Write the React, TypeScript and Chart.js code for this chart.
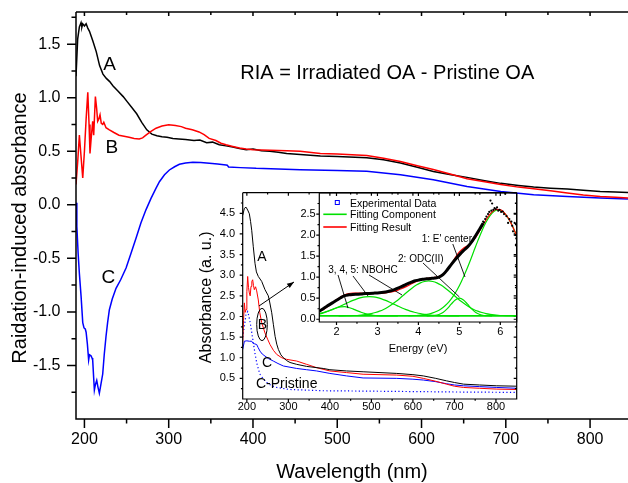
import { useEffect, useRef } from 'react';
import { Chart, registerables } from 'chart.js';

Chart.register(...registerables);

const FONT = '"Liberation Sans", Arial, Helvetica, sans-serif';
type Pt = [number, number];

// ---------- main chart (radiation-induced absorbance) ----------
const mainXTicks = [200, 300, 400, 500, 600, 700, 800];
const mainXMinor = [250, 350, 450, 550, 650, 750];
const mainYTicks = [-1.5, -1.0, -0.5, 0.0, 0.5, 1.0, 1.5];
const mainYMinor = [-1.75, -1.25, -0.75, -0.25, 0.25, 0.75, 1.25, 1.75];

const riaA: Pt[] = [[190,1.20],[192,1.55],[194,1.66],[196,1.70],[197,1.66],[198,1.69],[200,1.67],[202,1.69],[204,1.65],[206,1.62],[210,1.53],[214,1.43],[218,1.30],[222,1.22],[226,1.18],[230,1.15],[234,1.11],[240,1.06],[246,1.01],[250,0.97],[256,0.91],[262,0.85],[268,0.77],[274,0.70],[280,0.66],[286,0.645],[292,0.635],[298,0.63],[305,0.62],[312,0.615],[320,0.61],[330,0.60],[337,0.605],[345,0.58],[352,0.585],[360,0.56],[368,0.55],[376,0.54],[384,0.525],[392,0.515],[400,0.52],[410,0.505],[420,0.50],[430,0.49],[440,0.48],[456,0.47],[480,0.455],[500,0.45],[535,0.44],[555,0.42],[575,0.39],[595,0.35],[614,0.31],[635,0.28],[654,0.256],[675,0.225],[694,0.20],[715,0.18],[733,0.166],[753,0.155],[773,0.147],[792,0.135],[812,0.125],[830,0.12],[845,0.115]];

const riaB: Pt[] = [[190,0.19],[192,0.40],[194,0.65],[196,0.45],[198,0.25],[200,0.50],[202,0.80],[204,1.05],[205.5,0.75],[206.6,0.48],[208,0.62],[209.8,0.78],[211,0.65],[213,1.01],[214.5,0.90],[215.7,0.78],[217,0.80],[218.5,0.84],[220,0.76],[221.7,0.75],[223,0.77],[225.6,0.72],[229.6,0.70],[235,0.675],[241,0.65],[247,0.64],[253,0.63],[259,0.62],[265,0.615],[269,0.625],[273,0.65],[279,0.685],[285,0.715],[292,0.735],[300,0.747],[308,0.74],[315,0.73],[320,0.715],[328,0.70],[336,0.68],[342,0.655],[348,0.62],[356,0.60],[362,0.575],[368,0.56],[376,0.545],[384,0.53],[392,0.52],[400,0.515],[420,0.51],[440,0.505],[456,0.50],[480,0.48],[500,0.475],[535,0.46],[555,0.435],[575,0.405],[595,0.365],[614,0.33],[635,0.285],[654,0.244],[675,0.215],[694,0.19],[715,0.165],[733,0.15],[753,0.13],[773,0.11],[792,0.092],[812,0.078],[830,0.07],[845,0.063]];

const riaC: Pt[] = [[190,0.02],[191,-0.2],[192.5,-0.45],[194,-0.64],[196,-0.85],[198,-1.10],[199.5,-1.15],[201,-1.16],[202,-1.19],[203.5,-1.30],[205,-1.45],[206,-1.40],[207.8,-1.41],[209,-1.43],[209.8,-1.45],[211,-1.62],[211.8,-1.73],[213,-1.68],[214.6,-1.64],[216,-1.70],[217.7,-1.76],[219.5,-1.68],[221.7,-1.58],[223.5,-1.40],[225.6,-1.23],[227.5,-1.10],[229.6,-0.98],[233,-0.88],[237.5,-0.78],[243,-0.70],[249.4,-0.59],[255,-0.46],[261.3,-0.31],[267,-0.17],[273,-0.047],[279,0.06],[285,0.156],[289,0.215],[295,0.28],[300.8,0.325],[307,0.355],[312.7,0.378],[320,0.39],[328.6,0.397],[338,0.395],[348.3,0.387],[358,0.38],[368,0.372],[369.5,0.37],[371,0.353],[385,0.347],[403.8,0.34],[430,0.335],[456,0.328],[500,0.32],[535,0.312],[575,0.28],[614,0.234],[654,0.17],[694,0.125],[733,0.094],[773,0.078],[812,0.063],[845,0.053]];

// ---------- inset 1 (absorbance) ----------
const absXTicks = [200, 300, 400, 500, 600, 700, 800];
const absXMinor = [250, 350, 450, 550, 650, 750];
const absYTicks = [0.5, 1.0, 1.5, 2.0, 2.5, 3.0, 3.5, 4.0, 4.5];
const absYMinor = [0.25, 0.75, 1.25, 1.75, 2.25, 2.75, 3.25, 3.75, 4.25, 4.75];

const absA: Pt[] = [[190,4.45],[194,4.62],[198,4.65],[202,4.58],[206,4.49],[209,4.30],[211.7,4.09],[215.5,3.69],[219.6,3.29],[223,3.08],[227.6,2.97],[235.8,2.85],[243.7,2.65],[251.7,2.50],[255,2.35],[259.9,2.09],[264,1.80],[268,1.52],[272,1.33],[276,1.20],[282,1.07],[288,1.0],[296,0.93],[304,0.885],[320,0.84],[344,0.79],[384,0.74],[400,0.71],[440,0.68],[480,0.66],[561,0.62],[600,0.59],[625,0.56],[655,0.50],[681,0.44],[700,0.40],[722,0.36],[760,0.34],[802,0.32],[850,0.31]];

const absB: Pt[] = [[190,1.37],[192,1.9],[194,2.33],[196,2.1],[198,2.17],[200,2.6],[202,2.97],[204,2.7],[206,2.57],[208,2.5],[210,2.73],[212,2.85],[214,2.89],[216,2.75],[218,2.65],[221,2.72],[223.7,2.62],[227.6,2.40],[231,2.1],[235.8,1.85],[243.7,1.60],[250,1.45],[255.8,1.32],[264,1.18],[272,1.08],[284,1.0],[296,0.96],[320,0.92],[344,0.84],[368,0.76],[400,0.68],[440,0.64],[480,0.60],[561,0.58],[600,0.55],[625,0.50],[655,0.43],[681,0.36],[700,0.31],[722,0.28],[760,0.26],[802,0.24],[850,0.23]];

const absC: Pt[] = [[190,1.20],[194,1.40],[200,1.41],[206,1.40],[211.7,1.40],[214,1.36],[218,1.34],[223.7,1.32],[227,1.25],[231.7,1.16],[237,1.09],[243.7,1.04],[252,0.98],[263.7,0.92],[275,0.86],[288,0.80],[304,0.77],[320,0.74],[344,0.71],[368,0.68],[400,0.62],[440,0.56],[480,0.51],[561,0.50],[600,0.48],[625,0.46],[655,0.42],[681,0.37],[700,0.34],[722,0.32],[760,0.30],[802,0.28],[850,0.26]];

const absCPristine: Pt[] = [[190,1.5],[194,1.76],[198,2.05],[202,2.12],[205,2.0],[208,1.85],[212,1.6],[215.5,1.37],[220,1.08],[223.7,0.88],[228,0.72],[231.7,0.60],[240,0.48],[247.8,0.40],[260,0.32],[272,0.28],[290,0.25],[304,0.23],[384,0.20],[500,0.19],[600,0.18],[700,0.17],[850,0.16]];

// ---------- inset 2 (energy, fitted bands) ----------
const eXTicks = [2, 3, 4, 5, 6];
const eXMinor = [2.5, 3.5, 4.5, 5.5];
const eYTicks = [0.0, 0.5, 1.0, 1.5, 2.0, 2.5];
const eYMinor = [0.25, 0.75, 1.25, 1.75, 2.25, 2.75];

const expLine: Pt[] = [[1.58,0.19],[1.7,0.27],[1.8,0.33],[1.9,0.39],[2.0,0.45],[2.1,0.51],[2.2,0.56],[2.3,0.58],[2.4,0.59],[2.5,0.595],[2.6,0.60],[2.7,0.61],[2.8,0.615],[2.9,0.62],[3.0,0.625],[3.1,0.635],[3.2,0.65],[3.3,0.67],[3.4,0.70],[3.5,0.74],[3.6,0.78],[3.7,0.83],[3.8,0.87],[3.9,0.91],[4.0,0.93],[4.1,0.95],[4.2,0.96],[4.3,0.97],[4.4,0.98],[4.5,1.00],[4.6,1.06],[4.7,1.17],[4.8,1.30],[4.9,1.42],[5.0,1.53],[5.1,1.63],[5.2,1.72],[5.3,1.84],[5.4,1.99],[5.5,2.15],[5.58,2.28]];

const expScatter: Pt[] = [[5.58,2.32],[5.60,2.30],[5.63,2.38],[5.66,2.44],[5.70,2.50],[5.73,2.55],[5.76,2.82],[5.78,2.58],[5.80,2.75],[5.83,2.60],[5.86,2.64],[5.89,2.62],[5.92,2.66],[5.95,2.58],[5.98,2.60],[6.02,2.55],[6.06,2.56],[6.09,2.50],[6.12,2.98],[6.15,2.45],[6.19,2.29],[6.22,2.38],[6.27,2.32],[6.29,2.22],[6.31,2.09],[6.35,2.29],[6.37,2.00],[6.39,1.92]];

const fitResult: Pt[] = [[1.6,0.190],[1.7,0.244],[1.8,0.312],[1.9,0.388],[2.0,0.463],[2.1,0.529],[2.2,0.579],[2.3,0.609],[2.4,0.621],[2.5,0.623],[2.6,0.620],[2.7,0.616],[2.8,0.615],[2.9,0.615],[3.0,0.617],[3.1,0.618],[3.2,0.627],[3.3,0.642],[3.4,0.664],[3.5,0.693],[3.6,0.730],[3.7,0.775],[3.8,0.826],[3.9,0.874],[4.0,0.916],[4.1,0.950],[4.2,0.973],[4.3,0.984],[4.4,0.996],[4.5,1.017],[4.6,1.067],[4.7,1.160],[4.8,1.304],[4.9,1.464],[5.0,1.601],[5.1,1.689],[5.2,1.749],[5.3,1.826],[5.4,1.948],[5.5,2.110],[5.6,2.280],[5.7,2.436],[5.8,2.551],[5.9,2.610],[6.0,2.603],[6.1,2.529],[6.2,2.395],[6.3,2.206],[6.4,1.983]];

const fitBaseline: Pt[] = [[1.5,0.08],[6.5,0.08]];

const compNBOHC1: Pt[] = [[1.5,0.106],[1.6,0.128],[1.7,0.158],[1.8,0.197],[1.9,0.238],[2.0,0.274],[2.1,0.296],[2.2,0.298],[2.3,0.280],[2.4,0.246],[2.5,0.205],[2.6,0.166],[2.7,0.133],[2.8,0.110],[2.9,0.095],[3.0,0.087],[3.2,0.081],[3.5,0.08]];

const compNBOHC2: Pt[] = [[1.5,0.124],[1.6,0.142],[1.7,0.166],[1.8,0.195],[1.9,0.230],[2.0,0.269],[2.1,0.313],[2.2,0.359],[2.3,0.405],[2.4,0.448],[2.5,0.486],[2.6,0.515],[2.7,0.534],[2.8,0.540],[2.9,0.534],[3.0,0.515],[3.1,0.486],[3.2,0.448],[3.3,0.405],[3.4,0.359],[3.5,0.313],[3.6,0.269],[3.7,0.230],[3.8,0.195],[3.9,0.166],[4.0,0.142],[4.1,0.124],[4.2,0.110],[4.3,0.100],[4.4,0.093],[4.5,0.088],[4.6,0.085],[4.8,0.082],[5.0,0.08]];

const compNBOHC3: Pt[] = [[2.05,0.082],[2.25,0.083],[2.35,0.085],[2.45,0.089],[2.55,0.095],[2.65,0.104],[2.75,0.117],[2.85,0.135],[2.95,0.160],[3.05,0.192],[3.15,0.234],[3.25,0.287],[3.35,0.350],[3.45,0.421],[3.55,0.500],[3.65,0.584],[3.75,0.667],[3.85,0.745],[3.95,0.812],[4.05,0.865],[4.15,0.898],[4.25,0.910],[4.35,0.898],[4.45,0.865],[4.55,0.812],[4.65,0.745],[4.75,0.667],[4.85,0.584],[4.95,0.500],[5.05,0.421],[5.15,0.350],[5.25,0.287],[5.35,0.234],[5.45,0.192],[5.55,0.160],[5.65,0.135],[5.75,0.117],[5.85,0.104],[5.95,0.095],[6.05,0.089],[6.15,0.085],[6.25,0.083],[6.45,0.081]];

const compODC: Pt[] = [[4.2,0.08],[4.3,0.083],[4.4,0.090],[4.5,0.112],[4.6,0.160],[4.7,0.246],[4.8,0.358],[4.9,0.459],[5.0,0.50],[5.1,0.459],[5.2,0.358],[5.3,0.246],[5.4,0.160],[5.5,0.112],[5.6,0.090],[5.7,0.083],[5.8,0.08]];

const compEprime: Pt[] = [[3.75,0.085],[3.95,0.090],[4.05,0.097],[4.15,0.108],[4.25,0.125],[4.35,0.153],[4.45,0.191],[4.55,0.246],[4.65,0.322],[4.75,0.420],[4.85,0.549],[4.95,0.707],[5.05,0.899],[5.15,1.116],[5.25,1.355],[5.35,1.610],[5.45,1.862],[5.55,2.099],[5.65,2.303],[5.75,2.464],[5.85,2.565],[5.95,2.600],[6.05,2.565],[6.15,2.464],[6.25,2.303],[6.35,2.099],[6.45,1.862]];

// ---------- helpers ----------
type Deco = {
  xMajor: number[]; xMinor: number[]; yMajor: number[]; yMinor: number[];
  outMajor: number; outMinor: number; inMajor: number; inMinor: number;
  topLine: boolean; rightLine: boolean; topTicks: boolean; rightTicks: boolean; lw: number;
  extra?: (chart: any) => void;
};

function decoPlugin(id: string, d: Deco) {
  return {
    id,
    afterDraw(chart: any) {
      const ctx: CanvasRenderingContext2D = chart.ctx;
      const { left, right, top, bottom } = chart.chartArea;
      const xs = chart.scales.x;
      const ys = chart.scales.y;
      ctx.save();
      ctx.strokeStyle = '#000';
      ctx.lineWidth = d.lw;
      ctx.beginPath();
      ctx.moveTo(left, top);
      ctx.lineTo(left, bottom);
      ctx.lineTo(right, bottom);
      if (d.rightLine) ctx.lineTo(right, top);
      if (d.topLine) { ctx.moveTo(left, top); ctx.lineTo(right, top); }
      const tk = (a: number, b: number, c: number, e: number) => { ctx.moveTo(a, b); ctx.lineTo(c, e); };
      d.xMajor.forEach(v => { const p = xs.getPixelForValue(v); tk(p, bottom, p, bottom + d.outMajor); if (d.topTicks) tk(p, top, p, top + d.inMajor); });
      d.xMinor.forEach(v => { const p = xs.getPixelForValue(v); tk(p, bottom, p, bottom + d.outMinor); if (d.topTicks) tk(p, top, p, top + d.inMinor); });
      d.yMajor.forEach(v => { const p = ys.getPixelForValue(v); tk(left - d.outMajor, p, left, p); if (d.rightTicks) tk(right, p, right - d.inMajor, p); });
      d.yMinor.forEach(v => { const p = ys.getPixelForValue(v); tk(left - d.outMinor, p, left, p); if (d.rightTicks) tk(right, p, right - d.inMinor, p); });
      ctx.stroke();
      ctx.restore();
      if (d.extra) d.extra(chart);
    },
  };
}

function txt(ctx: CanvasRenderingContext2D, s: string, x: number, y: number, size: number, align: CanvasTextAlign = 'center', rotate = false) {
  ctx.save();
  ctx.font = `${size}px ${FONT}`;
  ctx.fillStyle = '#000';
  ctx.textAlign = align;
  ctx.textBaseline = 'alphabetic';
  if (rotate) { ctx.translate(x, y); ctx.rotate(-Math.PI / 2); ctx.fillText(s, 0, 0); }
  else ctx.fillText(s, x, y);
  ctx.restore();
}

function seg(ctx: CanvasRenderingContext2D, x1: number, y1: number, x2: number, y2: number, lw = 1, color = '#000') {
  ctx.save();
  ctx.strokeStyle = color;
  ctx.lineWidth = lw;
  ctx.beginPath();
  ctx.moveTo(x1, y1);
  ctx.lineTo(x2, y2);
  ctx.stroke();
  ctx.restore();
}

function scale(min: number, max: number, ticks: number[], size: number, pad: number, fit: number, horizontal: boolean, digits: number) {
  return {
    type: 'linear',
    min, max,
    afterBuildTicks: (s: any) => { s.ticks = ticks.map(v => ({ value: v })); },
    afterFit: (s: any) => {
      if (horizontal) s.height = fit; else s.width = fit;
      s.paddingTop = 0; s.paddingBottom = 0; s.paddingLeft = 0; s.paddingRight = 0;
    },
    grid: { display: false, drawTicks: false },
    border: { display: false },
    ticks: {
      font: { family: FONT, size }, color: '#000', padding: pad, maxRotation: 0, autoSkip: false,
      callback: (v: any) => Number(v).toFixed(digits),
    },
  };
}

const pts = (a: Pt[]) => a.map(([x, y]) => ({ x, y }));
const line = (a: Pt[], color: string, w: number, extra: any = {}) => ({
  data: pts(a), borderColor: color, backgroundColor: color, borderWidth: w, pointRadius: 0, tension: 0, fill: false, ...extra,
});

const baseOpts = (padding: any, scales: any) => ({
  responsive: false,
  animation: false,
  devicePixelRatio: 1,
  events: [],
  layout: { autoPadding: false, padding },
  plugins: { legend: { display: false }, tooltip: { enabled: false }, title: { display: false } },
  scales,
});

export default function App() {
  const mainRef = useRef<HTMLCanvasElement>(null);
  const absRef = useRef<HTMLCanvasElement>(null);
  const eRef = useRef<HTMLCanvasElement>(null);

  useEffect(() => {
    const charts: Chart[] = [];

    // main
    const mainDeco = decoPlugin('mainDeco', {
      xMajor: mainXTicks, xMinor: mainXMinor, yMajor: mainYTicks, yMinor: mainYMinor,
      outMajor: 9, outMinor: 4.5, inMajor: 4, inMinor: 3,
      topLine: true, rightLine: false, topTicks: true, rightTicks: false, lw: 1.5,
      extra: (chart: any) => {
        const ctx = chart.ctx as CanvasRenderingContext2D;
        const { left, right, top, bottom } = chart.chartArea;
        const xs = chart.scales.x, ys = chart.scales.y;
        txt(ctx, 'A', xs.getPixelForValue(229.8), ys.getPixelForValue(1.258), 19);
        txt(ctx, 'B', xs.getPixelForValue(232.4), ys.getPixelForValue(0.481), 19);
        txt(ctx, 'C', xs.getPixelForValue(228.3), ys.getPixelForValue(-0.728), 19);
        txt(ctx, 'RIA = Irradiated OA - Pristine OA', xs.getPixelForValue(559.3), ys.getPixelForValue(1.174), 20);
        txt(ctx, 'Wavelength (nm)', (left + right) / 2, bottom + 59, 20);
        txt(ctx, 'Raidation-induced absorbance', left - 50, top + 216, 20, 'center', true);
      },
    });
    charts.push(new Chart(mainRef.current as HTMLCanvasElement, {
      type: 'line',
      data: {
        datasets: [
          line(riaB, '#ff0000', 1.5),
          line(riaA, '#000000', 1.5),
          line(riaC, '#0000ff', 1.5),
        ],
      },
      options: baseOpts({ top: 12, right: 0, left: 0, bottom: 0 }, {
        x: scale(190, 845, mainXTicks, 16, 11, 64, true, 0),
        y: scale(-2.0, 1.8, mainYTicks, 16, 15.5, 76, false, 1),
      }) as any,
      plugins: [mainDeco],
    } as any));

    // inset 1
    const absDeco = decoPlugin('absDeco', {
      xMajor: absXTicks, xMinor: absXMinor, yMajor: absYTicks, yMinor: absYMinor,
      outMajor: 3, outMinor: 1.8, inMajor: 3, inMinor: 1.8,
      topLine: true, rightLine: true, topTicks: true, rightTicks: true, lw: 1.2,
      extra: (chart: any) => {
        const ctx = chart.ctx as CanvasRenderingContext2D;
        const { left, top, bottom } = chart.chartArea;
        const xs = chart.scales.x, ys = chart.scales.y;
        txt(ctx, 'A', xs.getPixelForValue(236.5), ys.getPixelForValue(3.352), 14);
        txt(ctx, 'B', xs.getPixelForValue(237.7), ys.getPixelForValue(1.689), 14);
        txt(ctx, 'C', xs.getPixelForValue(248.5), ys.getPixelForValue(0.783), 14);
        txt(ctx, 'C-Pristine', xs.getPixelForValue(222.0), ys.getPixelForValue(0.267), 14, 'left');
        txt(ctx, 'Absorbance (a. u.)', left - 31.7, (top + bottom) / 2 + 1.5, 16, 'center', true);
        // ellipse around B
        ctx.save();
        ctx.strokeStyle = '#000';
        ctx.lineWidth = 1;
        ctx.beginPath();
        ctx.ellipse(xs.getPixelForValue(236.5), ys.getPixelForValue(1.806), 5.3, 16.2, 0, 0, Math.PI * 2);
        ctx.stroke();
        ctx.restore();
        // arrow
        const x1 = xs.getPixelForValue(229.3), y1 = ys.getPixelForValue(2.254);
        const x2 = xs.getPixelForValue(313.6), y2 = ys.getPixelForValue(2.836);
        seg(ctx, x1, y1, x2, y2, 1);
        const ang = Math.atan2(y2 - y1, x2 - x1);
        ctx.save();
        ctx.fillStyle = '#000';
        ctx.beginPath();
        ctx.moveTo(x2, y2);
        ctx.lineTo(x2 - 7 * Math.cos(ang) + 2.6 * Math.sin(ang), y2 - 7 * Math.sin(ang) - 2.6 * Math.cos(ang));
        ctx.lineTo(x2 - 7 * Math.cos(ang) - 2.6 * Math.sin(ang), y2 - 7 * Math.sin(ang) + 2.6 * Math.cos(ang));
        ctx.closePath();
        ctx.fill();
        ctx.restore();
      },
    });
    charts.push(new Chart(absRef.current as HTMLCanvasElement, {
      type: 'line',
      data: {
        datasets: [
          line(absA, '#000000', 1),
          line(absB, '#ff0000', 1),
          line(absC, '#0000ff', 1),
          line(absCPristine, '#0000ff', 1.2, { borderDash: [1.2, 2.4] }),
        ],
      },
      options: baseOpts({ top: 12.7, right: 8.3, left: 0, bottom: 0 }, {
        x: scale(190, 850, absXTicks, 11, 1.5, 21, true, 0),
        y: scale(0, 5, absYTicks, 11, 7.7, 62.7, false, 1),
      }) as any,
      plugins: [absDeco],
    } as any));

    // inset 2
    const eDeco = decoPlugin('eDeco', {
      xMajor: eXTicks, xMinor: eXMinor, yMajor: eYTicks, yMinor: eYMinor,
      outMajor: 3, outMinor: 1.8, inMajor: 3, inMinor: 1.8,
      topLine: true, rightLine: true, topTicks: true, rightTicks: true, lw: 1.2,
      extra: (chart: any) => {
        const ctx = chart.ctx as CanvasRenderingContext2D;
        const { left, right, top, bottom } = chart.chartArea;
        const xs = chart.scales.x, ys = chart.scales.y;
        const X = (v: number) => xs.getPixelForValue(v);
        const Y = (v: number) => ys.getPixelForValue(v);
        // legend
        ctx.save();
        ctx.strokeStyle = '#0000ff';
        ctx.lineWidth = 1;
        ctx.strokeRect(left + 16, top + 7.5, 4, 4);
        ctx.restore();
        txt(ctx, 'Experimental Data', left + 30.7, top + 13.5, 10.5, 'left');
        seg(ctx, left + 4, top + 21.3, left + 27.4, top + 21.3, 1.6, '#00e000');
        txt(ctx, 'Fitting Component', left + 30.7, top + 25.1, 10.5, 'left');
        seg(ctx, left + 4, top + 34, left + 27.4, top + 34, 1.6, '#ff0000');
        txt(ctx, 'Fitting Result', left + 30.7, top + 37.8, 10.5, 'left');
        // annotations
        txt(ctx, "1: E' center", X(4.081), Y(1.824), 10, 'left');
        txt(ctx, '2: ODC(II)', X(3.502), Y(1.349), 10, 'left');
        txt(ctx, '3, 4, 5: NBOHC', X(1.800), Y(1.104), 10, 'left');
        seg(ctx, X(4.84), Y(1.788), X(5.138), Y(1.004), 0.9);
        seg(ctx, X(4.112), Y(1.337), X(5.0), Y(0.53), 0.9);
        seg(ctx, X(2.037), Y(1.052), X(2.281), Y(0.264), 0.9);
        seg(ctx, X(2.403), Y(1.028), X(2.769), Y(0.553), 0.9);
        seg(ctx, X(2.794), Y(1.052), X(3.600), Y(0.577), 0.9);
        txt(ctx, 'Energy (eV)', (left + right) / 2, bottom + 29.5, 11);
      },
    });
    const green = '#00e000';
    charts.push(new Chart(eRef.current as HTMLCanvasElement, {
      type: 'line',
      data: {
        datasets: [
          { data: pts(expScatter), showLine: false, pointRadius: 1.1, pointBorderWidth: 0, pointBackgroundColor: '#000', borderColor: '#000' },
          line(expLine, '#000000', 3, { cubicInterpolationMode: 'monotone' }),
          line(fitResult, '#ff0000', 1.2, { cubicInterpolationMode: 'monotone' }),
          line(compEprime, green, 1.2, { cubicInterpolationMode: 'monotone' }),
          line(compODC, green, 1.2, { cubicInterpolationMode: 'monotone' }),
          line(compNBOHC3, green, 1.2, { cubicInterpolationMode: 'monotone' }),
          line(compNBOHC2, green, 1.2, { cubicInterpolationMode: 'monotone' }),
          line(compNBOHC1, green, 1.2, { cubicInterpolationMode: 'monotone' }),
          line(fitBaseline, green, 1.6),
        ],
      },
      options: baseOpts({ top: 7, right: 5.3, left: 0, bottom: 0 }, {
        x: scale(1.58, 6.4, eXTicks, 11, 3, 34, true, 0),
        y: scale(-0.065, 3.0, eYTicks, 11, 3.6, 29.3, false, 1),
      }) as any,
      plugins: [eDeco],
    } as any));

    return () => { charts.forEach(c => c.destroy()); };
  }, []);

  return (
    <div style={{ position: 'fixed', left: 0, top: 0, width: 628, height: 483, background: '#fff', overflow: 'hidden' }}>
      <canvas ref={mainRef} width={628} height={483} style={{ position: 'absolute', left: 0, top: 0, width: 628, height: 483 }} />
      <canvas ref={absRef} width={345} height={240} style={{ position: 'absolute', left: 180, top: 180, width: 345, height: 240 }} />
      <canvas ref={eRef} width={232} height={170} style={{ position: 'absolute', left: 290, top: 186, width: 232, height: 170 }} />
    </div>
  );
}
